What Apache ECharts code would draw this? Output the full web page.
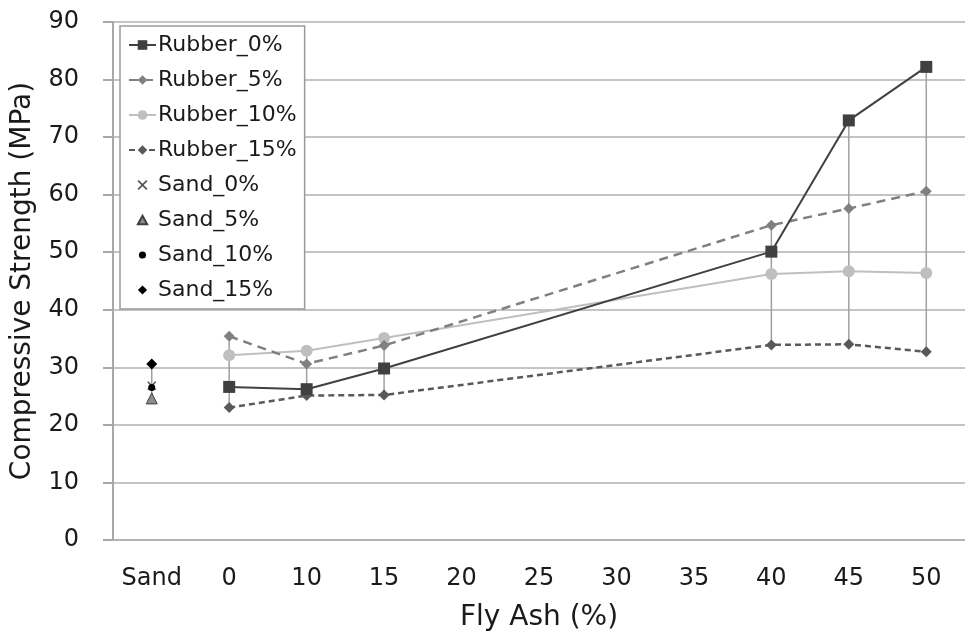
<!DOCTYPE html>
<html>
<head>
<meta charset="utf-8">
<script src="https://cdn.jsdelivr.net/npm/echarts@6/dist/echarts.min.js"></script>
<style>html,body{margin:0;padding:0;background:#fff;}#c{width:965px;height:637px;}</style>
</head>
<body>
<div id="c"></div>
<script>
var categories = ['Sand', '0', '10', '15', '20', '25', '30', '35', '40', '45', '50'];
var yTicks = [0, 10, 20, 30, 40, 50, 60, 70, 80, 90];
var rubber0 = [null, 26.6, 26.2, 29.8, null, null, null, null, 50.1, 72.9, 82.2];
var rubber5 = [null, 35.4, 30.6, 33.8, null, null, null, null, 54.7, 57.6, 60.6];
var rubber10 = [null, 32.1, 32.9, 35.1, null, null, null, null, 46.2, 46.7, 46.4];
var rubber15 = [null, 23.0, 25.1, 25.2, null, null, null, null, 33.9, 34.0, 32.7];
var sand0 = [26.8];
var sand5 = [24.6];
var sand10 = [26.5];
var sand15 = [30.6];

function pad(arr) {
  var out = [];
  for (var i = 0; i < categories.length; i++) out.push(i < arr.length && arr[i] != null ? arr[i] : '-');
  return out;
}

var allSeriesVals = [rubber0, rubber5, rubber10, rubber15, sand0, sand5, sand10, sand15];
var hiLo = [];
for (var i = 0; i < categories.length; i++) {
  var vals = [];
  allSeriesVals.forEach(function (a) { if (i < a.length && a[i] != null) vals.push(a[i]); });
  if (vals.length > 1) hiLo.push([i, Math.min.apply(null, vals), Math.max.apply(null, vals)]);
}

var FONT = 'DejaVu Sans';
var xPath = 'path://M0,1.2L1.2,0L5,3.8L8.8,0L10,1.2L6.2,5L10,8.8L8.8,10L5,6.2L1.2,10L0,8.8L3.8,5Z';
var triPath = 'path://M5,0L10,9L0,9Z';
var diaPath = 'path://M5,0L10,5L5,10L0,5Z';
// legend-only icons with transparent padding in their bounding box
var xLeg = 'path://M-1,-1M11,11M0,1.2L1.2,0L5,3.8L8.8,0L10,1.2L6.2,5L10,8.8L8.8,10L5,6.2L1.2,10L0,8.8L3.8,5Z';
var triLeg = 'path://M-1.5,-2M11.5,11M5,0L10,9L0,9Z';
var dotLeg = 'path://M0,0M10,10M5,2A3,3 0 1,1 4.99,2Z';
var diaLeg = 'path://M-1.5,-1.5M11.5,11.5M5,0L10,5L5,10L0,5Z';

var chart = echarts.init(document.getElementById('c'), null, {renderer: 'canvas'});
chart.setOption({
  animation: false,
  backgroundColor: '#ffffff',
  textStyle: {fontFamily: FONT},
  grid: {left: 113, top: 22, width: 859, bottom: 96},
  legend: {
    left: 120, top: 26, orient: 'vertical',
    padding: [8, 8, 8, 8],
    itemGap: 13, itemWidth: 27, itemHeight: 12,
    symbolKeepAspect: true,
    backgroundColor: '#ffffff',
    borderColor: '#9a9a9a', borderWidth: 1.5,
    textStyle: {fontFamily: FONT, fontSize: 22, color: '#1a1a1a', padding: [0, 0, 0, -3]},
    data: ['Rubber_0%', 'Rubber_5%', 'Rubber_10%', 'Rubber_15%',
      {name: 'Sand_0%', icon: xLeg},
      {name: 'Sand_5%', icon: triLeg},
      {name: 'Sand_10%', icon: dotLeg},
      {name: 'Sand_15%', icon: diaLeg}]
  },
  xAxis: {
    type: 'category', data: categories, boundaryGap: true,
    name: 'Fly Ash (%)', nameLocation: 'middle', nameGap: 64,
    nameTextStyle: {fontFamily: FONT, fontSize: 28, color: '#1a1a1a'},
    axisLine: {lineStyle: {color: '#b4b4b4', width: 2}},
    axisTick: {show: false},
    axisLabel: {fontFamily: FONT, fontSize: 24, color: '#1a1a1a', margin: 27, interval: 0},
    splitLine: {show: false}
  },
  yAxis: {
    type: 'value', min: 0, max: 90, interval: 10,
    name: 'Compressive Strength (MPa)', nameLocation: 'middle', nameGap: 76,
    nameTextStyle: {fontFamily: FONT, fontSize: 28, color: '#1a1a1a'},
    axisLine: {show: true, lineStyle: {color: '#a8a8a8', width: 2}},
    axisTick: {show: true, length: 10, lineStyle: {color: '#a8a8a8', width: 2}},
    axisLabel: {fontFamily: FONT, fontSize: 24, color: '#1a1a1a', margin: 34,
      formatter: function (v) { return yTicks.indexOf(v) >= 0 ? String(v) : ''; }},
    splitLine: {lineStyle: {color: '#c4c4c4', width: 2}}
  },
  series: [
    {
      name: 'hilo', type: 'custom', silent: true, z: 1,
      data: hiLo,
      encode: {x: 0, y: [1, 2]},
      renderItem: function (params, api) {
        var p1 = api.coord([api.value(0), api.value(1)]);
        var p2 = api.coord([api.value(0), api.value(2)]);
        return {type: 'line', shape: {x1: p1[0], y1: p1[1], x2: p2[0], y2: p2[1]},
          style: {stroke: '#a0a0a0', lineWidth: 1.5}};
      }
    },
    {
      name: 'Rubber_0%', type: 'line', data: pad(rubber0), connectNulls: true, z: 5,
      symbol: 'rect', symbolSize: 12,
      lineStyle: {color: '#404040', width: 2},
      itemStyle: {color: '#404040'}
    },
    {
      name: 'Rubber_5%', type: 'line', data: pad(rubber5), connectNulls: true, z: 4,
      symbol: 'diamond', symbolSize: 11,
      lineStyle: {color: '#808080', width: 2.5, type: [9, 6]},
      itemStyle: {color: '#808080'}
    },
    {
      name: 'Rubber_10%', type: 'line', data: pad(rubber10), connectNulls: true, z: 3,
      symbol: 'circle', symbolSize: 12,
      lineStyle: {color: '#bfbfbf', width: 2},
      itemStyle: {color: '#bfbfbf'}
    },
    {
      name: 'Rubber_15%', type: 'line', data: pad(rubber15), connectNulls: true, z: 4,
      symbol: 'diamond', symbolSize: 11,
      lineStyle: {color: '#595959', width: 2.5, type: [6, 4]},
      itemStyle: {color: '#595959'}
    },
    {
      name: 'Sand_0%', type: 'scatter', data: pad(sand0), z: 6,
      symbol: xPath, symbolSize: 9,
      itemStyle: {color: '#555555', opacity: 1}
    },
    {
      name: 'Sand_5%', type: 'scatter', data: pad(sand5), z: 6,
      symbol: triPath, symbolSize: 11,
      itemStyle: {color: '#8c8c8c', borderColor: '#404040', borderWidth: 1, opacity: 1}
    },
    {
      name: 'Sand_10%', type: 'scatter', data: pad(sand10), z: 7,
      symbol: 'circle', symbolSize: 7,
      itemStyle: {color: '#000000', opacity: 1}
    },
    {
      name: 'Sand_15%', type: 'scatter', data: pad(sand15), z: 6,
      symbol: diaPath, symbolSize: 11,
      itemStyle: {color: '#000000', opacity: 1}
    }
  ]
});
</script>
</body>
</html>
